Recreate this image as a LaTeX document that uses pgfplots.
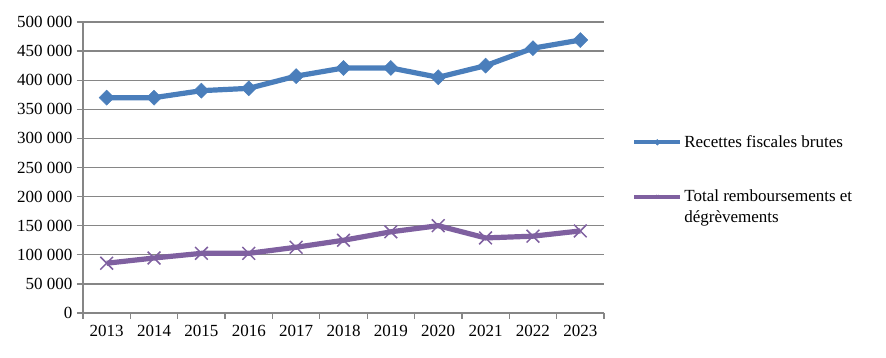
\documentclass[border=0pt]{standalone}
\usepackage{fontspec}
\setmainfont{Liberation Serif}
\usepackage{pgfplots}
\pgfplotsset{compat=1.18}
\definecolor{cblue}{HTML}{4A7EBB}
\definecolor{cpurple}{HTML}{7F60A0}
\definecolor{cgrid}{HTML}{868686}
\begin{document}
\begin{tikzpicture}
\path[use as bounding box] (0pt,0pt) rectangle (886pt,358pt);
\begin{axis}[at={(83pt,45pt)}, anchor=south west, scale only axis, width=521pt, height=291pt,
  xmin=-0.5, xmax=10.5, ymin=0, ymax=500000,
  axis x line*=bottom, axis y line*=left,
  axis line style={cgrid, line width=1.3pt, -},
  ytick={0,50000,100000,150000,200000,250000,300000,350000,400000,450000,500000},
  yticklabels={0,50 000,100 000,150 000,200 000,250 000,300 000,350 000,400 000,450 000,500 000},
  ymajorgrids, grid style={cgrid, line width=1.3pt},
  xtick={0,...,10},
  xticklabels={2013,2014,2015,2016,2017,2018,2019,2020,2021,2022,2023},
  major x tick style={draw=none},
  minor xtick={-0.5,0.5,...,10.5},
  tick align=outside, major tick length=6pt, minor tick length=6pt,
  tick style={cgrid, line width=1.3pt},
  minor x tick style={cgrid, line width=1.3pt},
  scaled y ticks=false,
  ticklabel style={font=\fontsize{17}{20}\selectfont},
  yticklabel style={xshift=-1pt},
  xticklabel style={yshift=-3pt},
  legend style={at={(1.054,0.618)}, anchor=north west, draw=none, fill=none,
    font=\fontsize{17}{20}\selectfont, cells={anchor=base west, inner xsep=2pt},
    row sep=37pt, inner sep=0pt},
  legend image code/.code={\draw[mark repeat=2, mark phase=2, #1, yshift=5pt, line width=4pt] plot coordinates {(0pt,0pt) (23pt,0pt) (46pt,0pt)};},
  legend image post style={mark size=2pt},
]
\addplot[cblue, line width=5.2pt, mark=square*, mark size=5.3pt, mark options={line width=0.5pt, rotate=45}]
coordinates {(0,370000) (1,370000) (2,382000) (3,386000) (4,407000) (5,421000) (6,421000) (7,405000) (8,425000) (9,455000) (10,469000)};
\addlegendentry{Recettes fiscales brutes}
\addplot[cpurple, line width=5.2pt, mark=x, mark size=9pt, mark options={line width=1.5pt}]
coordinates {(0,85500) (1,94500) (2,102500) (3,102500) (4,113000) (5,125000) (6,139500) (7,150000) (8,129000) (9,132000) (10,141000)};
\addlegendentry{\vtop{\hbox{Total remboursements et}\vskip1pt\hbox{dégrèvements}}}
\end{axis}
\end{tikzpicture}
\end{document}
